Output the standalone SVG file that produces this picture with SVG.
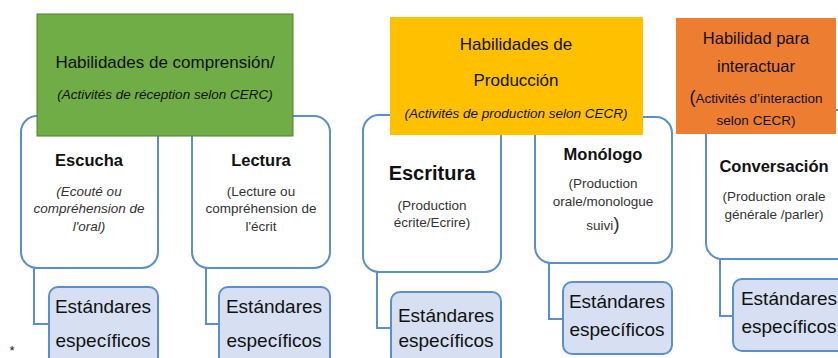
<svg xmlns="http://www.w3.org/2000/svg" width="838" height="358" viewBox="0 0 838 358">
<style>
text{font-family:"Liberation Sans","Noto Sans",sans-serif;fill:#111;text-anchor:middle}
.box{fill:#fff;stroke:#5B8FCB;stroke-width:2}
.std{fill:#D6E0F2;stroke:#5B8FCB;stroke-width:2}
.con{fill:none;stroke:#5B8FCB;stroke-width:2}
.h{font-size:17px}
.hi{font-size:13.5px;font-style:italic}
.b{font-size:16.5px;font-weight:bold}
.s{font-size:13.5px;fill:#333}
.si{font-size:13.5px;font-style:italic;fill:#333}
.e{font-size:19px}
</style>
<rect width="838" height="358" fill="#fff"/>
<g id="connectors">
<path class="con" d="M34 268V324H49"/>
<path class="con" d="M206 268V324H219"/>
<path class="con" d="M377 272V328H391"/>
<path class="con" d="M549 263V319H563"/>
<path class="con" d="M720 259V316H733"/>
</g>
<g id="escucha">
<rect class="box" x="21" y="116" width="137" height="152" rx="16"/>
<text class="b" x="89" y="166">Escucha</text>
<text class="si" x="89" y="196">(Ecouté ou</text>
<text class="si" x="89" y="213">compréhension de</text>
<text class="si" x="89" y="231">l'oral)</text>
</g>
<g id="lectura">
<rect class="box" x="192" y="116" width="138" height="152" rx="16"/>
<text class="b" x="261" y="166">Lectura</text>
<text class="s" x="261" y="196">(Lecture ou</text>
<text class="s" x="261" y="213">compréhension de</text>
<text class="s" x="261" y="231">l'écrit</text>
</g>
<g id="escritura">
<rect class="box" x="363" y="115" width="138" height="157" rx="16"/>
<text class="b" x="432" y="180" style="font-size:20px">Escritura</text>
<text class="s" x="432" y="210">(Production</text>
<text class="s" x="432" y="227">écrite/Ecrire)</text>
</g>
<g id="monologo">
<rect class="box" x="535" y="117" width="137" height="146" rx="16"/>
<text class="b" x="603" y="160">Monólogo</text>
<text class="s" x="603" y="188">(Production</text>
<text class="s" x="603" y="206">orale/monologue</text>
<text class="s" x="603" y="230">suivi<tspan style="font-size:19px">)</tspan></text>
</g>
<g id="conversacion">
<rect class="box" x="706" y="110" width="150" height="149" rx="16"/>
<text class="b" x="774" y="172">Conversación</text>
<text class="s" x="774" y="201">(Production orale</text>
<text class="s" x="774" y="219">générale /parler)</text>
</g>
<g id="comprension">
<rect x="37" y="14" width="256" height="122" fill="#70AD47" stroke="#507E32" stroke-width="1"/>
<text class="h" x="165" y="68">Habilidades de comprensión/</text>
<text class="hi" x="165" y="99">(Activités de réception selon CERC)</text>
</g>
<g id="produccion">
<rect x="390" y="17" width="253" height="118" fill="#FFC000"/>
<text class="h" x="516" y="50">Habilidades de</text>
<text class="h" x="516" y="86">Producción</text>
<text class="hi" x="516" y="118">(Activités de production selon CECR)</text>
</g>
<g id="interaccion">
<rect x="676" y="18" width="160" height="116" fill="#ED7D31"/>
<text x="756" y="44" style="font-size:16.5px">Habilidad para</text>
<text x="756" y="72" style="font-size:16.5px">interactuar</text>
<text x="756" y="103" style="font-size:13.5px"><tspan style="font-size:18px">(</tspan>Activités d’interaction</text>
<text x="756" y="125" style="font-size:13.5px">selon CECR)</text>
</g>
<g id="std1">
<rect class="std" x="49" y="287" width="109" height="80" rx="9"/>
<text class="e" x="103" y="313">Estándares</text>
<text class="e" x="103" y="347">específicos</text>
</g>
<g id="std2">
<rect class="std" x="219" y="287" width="111" height="80" rx="9"/>
<text class="e" x="274" y="313">Estándares</text>
<text class="e" x="274" y="347">específicos</text>
</g>
<g id="std3">
<rect class="std" x="391" y="292" width="110" height="80" rx="9"/>
<text class="e" x="446" y="322">Estándares</text>
<text class="e" x="446" y="347">específicos</text>
</g>
<g id="std4">
<rect class="std" x="563" y="282" width="109" height="72" rx="9"/>
<text class="e" x="617" y="308">Estándares</text>
<text class="e" x="617" y="336">específicos</text>
</g>
<g id="std5">
<rect class="std" x="733" y="279" width="120" height="72" rx="9"/>
<text class="e" x="789" y="305">Estándares</text>
<text class="e" x="789" y="333">específicos</text>
</g>
<text x="12" y="355" style="font-size:13px">*</text>
</svg>
